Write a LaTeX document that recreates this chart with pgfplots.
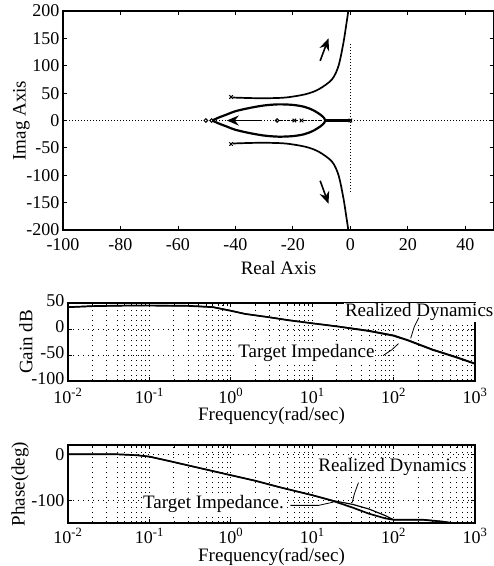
\documentclass[border=0pt]{standalone}
\usepackage{fontspec}
\setmainfont{Liberation Serif}
\usepackage{pgfplots}
\pgfplotsset{compat=1.18}
\usetikzlibrary{arrows.meta}

\pgfplotstableread{
x y
0.01 42
0.02 44
0.05 45
0.1 45
0.3 44.5
0.6 42
1.0 35
1.5 29
3 22.5
5 17
10 11
20 5
50 -4
100 -13
150 -22
300 -40
600 -55
1000 -67
}\gaintarget

\pgfplotstableread{
x y
0.01 42
0.02 44
0.05 45
0.1 45.5
0.3 44.5
0.6 42.5
1.0 35.5
1.5 29
3 22.5
5 17.5
10 11
20 5.5
50 -3
100 -12
150 -21
300 -39
600 -54
1000 -66
}\gainrealized

\pgfplotstableread{
x y
0.01 0
0.04 0
0.07 -2
0.1 -5
0.18 -15
0.4 -29
1 -45
2 -57
4 -71
10 -88
17 -99
31.6 -115
50 -128
79 -138
100 -141
230 -141
400 -145
620 -150
}\phasetarget

\pgfplotstableread{
x y
0.01 0
0.04 0
0.07 -2
0.1 -5
0.18 -15
0.4 -29
1 -45
2 -57
4 -71
10 -88
17 -99
31.6 -108
50 -118
79 -132
100 -141
230 -141
400 -145
620 -150
}\phaserealized

\begin{document}
\begin{tikzpicture}
\useasboundingbox (0pt,0pt) rectangle (494pt,-566pt);
\pgfplotsset{every axis/.append style={
  font=\fontsize{19}{21}\selectfont,
  /pgf/number format/assume math mode=true,
  scale only axis,
  tick align=inside,
  major tick length=4pt,
  minor tick length=2.5pt,
  tick style={black, line width=0.8pt},
  axis line style={line width=1.2pt},
  tick label style={font=\fontsize{18}{20}\selectfont},
  label style={font=\fontsize{19}{21}\selectfont},
  xlabel style={at={(axis description cs:0.5,0)}, anchor=center},
}}

% root locus
\begin{axis}[at={(63pt,-230pt)}, anchor=south west, width=431pt, height=219pt,
  xmin=-100, xmax=50, ymin=-200, ymax=200,
  xtick={-100,-80,...,40}, ytick={-200,-150,...,200},
  xticklabel style={yshift=-5pt},
  xlabel={Real Axis}, ylabel={Imag Axis},
  xlabel style={yshift=-38pt}, ylabel style={yshift=-10pt}]
\addplot[dotted, line width=1pt] coordinates {(-100,0) (50,0)};
\addplot[dotted, line width=1pt] coordinates {(0,-130) (0,142)};
\addplot[line width=1.7pt, smooth] coordinates {(-41,42) (-35,41) (-29.4,40.7) (-22.5,42) (-15.6,48) (-11,57) (-6.4,75) (-4.1,100) (-2.4,142) (-1.3,179) (-0.7,200)};
\addplot[line width=1.7pt, smooth] coordinates {(-41,-42) (-35,-41) (-29.4,-40.7) (-22.5,-42) (-15.6,-48) (-11,-57) (-6.4,-75) (-4.1,-100) (-2.4,-142) (-1.3,-179) (-0.7,-200)};
\addplot[line width=2.2pt, smooth] coordinates {(-48,0) (-46,5) (-43,11) (-40,17) (-35,23) (-30,27.5) (-25,29.5) (-20,28.5) (-16,25) (-13,19) (-10.5,11) (-9.2,5) (-8.7,0)};
\addplot[line width=2.2pt, smooth] coordinates {(-48,0) (-46,-5) (-43,-11) (-40,-17) (-35,-23) (-30,-27.5) (-25,-29.5) (-20,-28.5) (-16,-25) (-13,-19) (-10.5,-11) (-9.2,-5) (-8.7,0)};
\addplot[line width=2.5pt] coordinates {(-9,0) (0,0)};
\addplot[line width=1pt, dash dot] coordinates {(-25,0) (-9,0)};
\addplot[line width=1.3pt, -{Stealth[length=12pt,width=10pt]}] coordinates {(-31,0) (-43,0)};
\addplot[line width=1.6pt, -{Stealth[length=12pt,width=10pt]}] coordinates {(-10.5,109) (-7.6,150)};
\addplot[line width=1.6pt, -{Stealth[length=12pt,width=10pt]}] coordinates {(-10.5,-110) (-7.6,-152)};
\addplot[only marks, mark=x, mark size=2.5pt, line width=1pt] coordinates {(-41.5,43) (-41.5,-43) (-19.5,0) (-17,0) (0,0)};
\addplot[only marks, mark=o, mark size=1.8pt, line width=1pt] coordinates {(-50.3,0) (-48.3,0) (-25.5,0)};
\end{axis}

% gain
\begin{axis}[at={(68pt,-381pt)}, anchor=south west, width=407pt, height=78pt,
  xmode=log, xmin=0.01, xmax=1000, ymin=-100, ymax=50,
  ytick={-100,-50,0,50},
  yticklabel style={yshift=2pt},
  xtick={0.01,0.1,1,10,100,1000},
  xticklabels={10\textsuperscript{-2},10\textsuperscript{-1},10\textsuperscript{0},10\textsuperscript{1},10\textsuperscript{2},10\textsuperscript{3}},
  xticklabel style={yshift=-4pt},
  grid=both,
  major grid style={dash pattern=on 1pt off 4pt, line width=0.9pt, black},
  minor grid style={dash pattern=on 1pt off 4pt, line width=0.9pt, black},
  xlabel={Frequency(rad/sec)}, ylabel={Gain dB},
  xlabel style={yshift=-35pt}, ylabel style={yshift=-8pt},
  clip mode=individual]
\addplot[line width=1.7pt] table {\gaintarget};
\addplot[line width=1.2pt] table {\gainrealized};
\node[anchor=west, fill=white, inner sep=1pt] at (axis cs:24.5,32) {Realized Dynamics};
\node[anchor=west, fill=white, inner sep=1pt] at (axis cs:1.2,-47) {Target Impedance};
\addplot[line width=0.8pt] coordinates {(204,22) (180,5) (162,-18)};
\addplot[line width=0.8pt] coordinates {(76,-50) (95,-40) (115,-28)};
\end{axis}

% phase
\begin{axis}[at={(68pt,-523pt)}, anchor=south west, width=407pt, height=78pt,
  xmode=log, xmin=0.01, xmax=1000, ymin=-148, ymax=20,
  ytick={-100,0},
  xtick={0.01,0.1,1,10,100,1000},
  xticklabels={10\textsuperscript{-2},10\textsuperscript{-1},10\textsuperscript{0},10\textsuperscript{1},10\textsuperscript{2},10\textsuperscript{3}},
  xticklabel style={yshift=-2pt},
  grid=both,
  major grid style={dash pattern=on 1pt off 4pt, line width=0.9pt, black},
  minor grid style={dash pattern=on 1pt off 4pt, line width=0.9pt, black},
  xlabel={Frequency(rad/sec)}, ylabel={Phase(deg)},
  xlabel style={yshift=-34pt}, ylabel style={yshift=-4pt},
  clip mode=individual]
\addplot[line width=1.7pt] table {\phasetarget};
\addplot[line width=1.2pt] table {\phaserealized};
\node[anchor=west, fill=white, inner sep=1pt] at (axis cs:11.5,-28) {Realized Dynamics};
\node[anchor=west, fill=white, inner sep=1pt] at (axis cs:0.081,-108) {Target Impedance.};
\addplot[line width=0.8pt] coordinates {(37,-61) (33,-85) (31,-104)};
\addplot[line width=0.8pt] coordinates {(5.4,-110) (12,-110) (18.2,-103)};
\end{axis}
\end{tikzpicture}
\end{document}
